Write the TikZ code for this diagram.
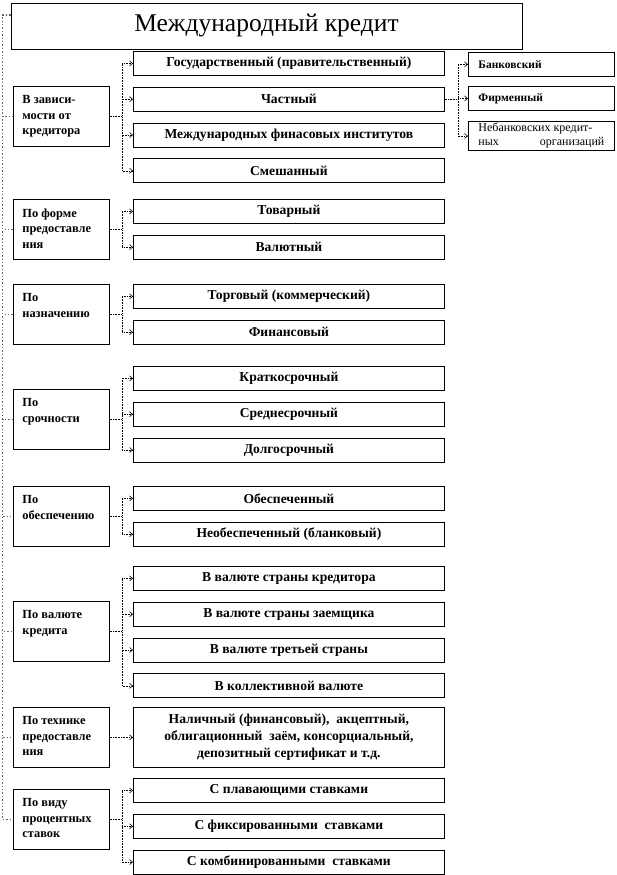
\documentclass[tikz,border=0pt]{standalone}
\usepackage{fontspec}
\setmainfont{Liberation Serif}[BoldFont={Liberation Serif Bold}]
\usetikzlibrary{arrows.meta,positioning}
\newcommand{\cattext}[1]{\parbox[c][52pt][t]{78pt}{\vspace*{5pt}\raggedright #1}}
\newcommand{\kindtext}[1]{\parbox{126pt}{#1}}

\begin{document}
\begin{tikzpicture}[x=1pt, y=-1pt,
  head/.style={draw, line width=0.8pt, minimum width=511pt, minimum height=46pt,
    inner sep=0pt, font=\fontsize{25.5}{30}\selectfont},
  cat/.style={draw, line width=0.8pt, anchor=north west, minimum width=96pt,
    minimum height=60pt, inner sep=4pt, font=\fontsize{12.4}{15.5}\selectfont\bfseries},
  sub/.style={draw, line width=0.8pt, minimum width=311pt, minimum height=24pt,
    inner sep=2pt, align=center, font=\fontsize{13.6}{17}\selectfont\bfseries},
  kind/.style={draw, line width=0.8pt, anchor=north west, minimum width=146pt,
    minimum height=24pt, inner sep=2pt, font=\fontsize{11.5}{14}\selectfont\bfseries},
  link/.style={densely dotted, line width=0.6pt, -{Straight Barb[length=3pt,width=5pt]}},
  trunk/.style={dotted, line width=1.4pt, black!60}
]
  \useasboundingbox (0,0) rectangle (616,875);

  % title
  \node[head] (title) at (266.5,26) {Международный кредит};

  % criteria
  \node[cat] (k1) at (13,86)  {\cattext{В зависи-\\мости от\\кредитора}};
  \node[cat] (k2) at (13,199) {\cattext{По форме\\предоставле\\ния}};
  \node[cat] (k3) at (13,284) {\cattext{По\\назначению}};
  \node[cat] (k4) at (13,389) {\cattext{По\\срочности}};
  \node[cat] (k5) at (13,486) {\cattext{По\\обеспечению}};
  \node[cat] (k6) at (13,601) {\cattext{По валюте\\кредита}};
  \node[cat] (k7) at (13,707) {\cattext{По технике\\предоставле\\ния}};
  \node[cat] (k8) at (13,789) {\cattext{По виду\\процентных\\ставок}};

  % kinds of credit
  \node[sub, anchor=north west] (v11) at (133,51) {Государственный (правительственный)};
  \node[sub, below=11pt of v11] (v12) {Частный};
  \node[sub, below=11pt of v12] (v13) {Международных финасовых институтов};
  \node[sub, below=11pt of v13] (v14) {Смешанный};

  \node[sub, anchor=north west] (v21) at (133,199) {Товарный};
  \node[sub, below=11pt of v21] (v22) {Валютный};

  \node[sub, anchor=north west] (v31) at (133,284) {Торговый (коммерческий)};
  \node[sub, below=11pt of v31] (v32) {Финансовый};

  \node[sub, anchor=north west] (v41) at (133,366) {Краткосрочный};
  \node[sub, below=11pt of v41] (v42) {Среднесрочный};
  \node[sub, below=11pt of v42] (v43) {Долгосрочный};

  \node[sub, anchor=north west] (v51) at (133,486) {Обеспеченный};
  \node[sub, below=11pt of v51] (v52) {Необеспеченный (бланковый)};

  \node[sub, anchor=north west] (v61) at (133,566) {В валюте страны кредитора};
  \node[sub, below=11pt of v61] (v62) {В валюте страны заемщика};
  \node[sub, below=11pt of v62] (v63) {В валюте третьей страны};
  \node[sub, below=11pt of v63] (v64) {В коллективной валюте};

  \node[sub, anchor=north west, minimum height=60pt] (v71) at (133,707)
    {Наличный (финансовый),\ \ акцептный,\\облигационный\ \ заём, консорциальный,\\депозитный сертификат и т.д.};

  \node[sub, anchor=north west] (v81) at (133,778) {С плавающими ставками};
  \node[sub, below=11pt of v81] (v82) {С фиксированными\ \ ставками};
  \node[sub, below=11pt of v82] (v83) {С комбинированными\ \ ставками};

  % private credit
  \node[kind] (r1) at (468,52) {\kindtext{Банковский}};
  \node[kind] (r2) at (468,86) {\kindtext{Фирменный}};
  \node[kind, minimum height=29pt, font=\fontsize{12}{14}\selectfont] (r3) at (468,121)
    {\kindtext{Небанковских кредит-\\ных\hfill организаций}};

  % connectors
  \foreach \k in {k1,k2,k3,k4,k5,k6,k7,k8}
    \draw[trunk] ([yshift=11pt]title.west) -- ++(-8,0) |- (\k.west);

  \foreach \s in {v11,v12,v13,v14}
    \draw[link] (k1.east) -- ++(12,0) |- (\s.west);
  \foreach \s in {v21,v22}
    \draw[link] (k2.east) -- ++(12,0) |- (\s.west);
  \foreach \s in {v31,v32}
    \draw[link] (k3.east) -- ++(12,0) |- (\s.west);
  \foreach \s in {v41,v42,v43}
    \draw[link] (k4.east) -- ++(12,0) |- (\s.west);
  \foreach \s in {v51,v52}
    \draw[link] (k5.east) -- ++(12,0) |- (\s.west);
  \foreach \s in {v61,v62,v63,v64}
    \draw[link] (k6.east) -- ++(12,0) |- (\s.west);
  \draw[link] (k7.east) -- (v71.west);
  \foreach \s in {v81,v82,v83}
    \draw[link] (k8.east) -- ++(12,0) |- (\s.west);

  \foreach \r in {r1,r2,r3}
    \draw[link] (v12.east) -- ++(13,0) |- (\r.west);
\end{tikzpicture}
\end{document}
